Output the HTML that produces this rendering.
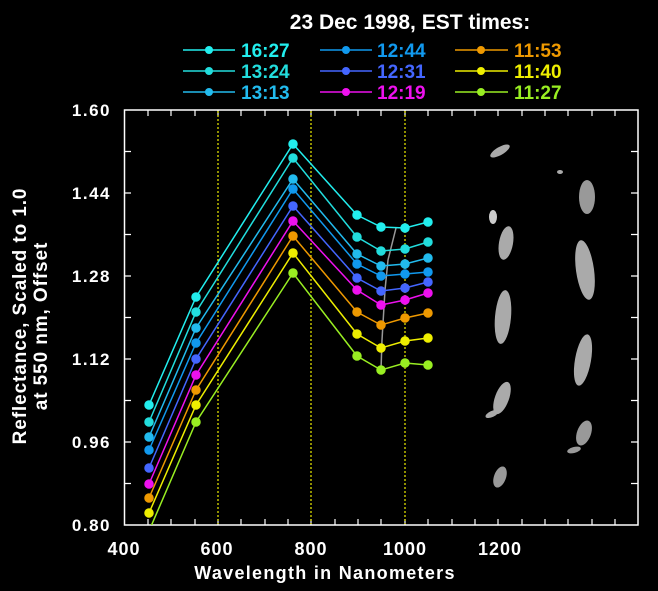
<!DOCTYPE html>
<html><head><meta charset="utf-8"><style>
html,body{margin:0;padding:0;background:#000;}
svg{display:block;}
text{font-family:"Liberation Sans",sans-serif;}
</style></head><body>
<svg width="658" height="591" viewBox="0 0 658 591" xmlns="http://www.w3.org/2000/svg">
<rect width="658" height="591" fill="#000"/>
<text x="410" y="29" fill="#fff" font-size="21" font-weight="bold" text-anchor="middle">23 Dec 1998, EST times:</text>
<g font-size="19" font-weight="bold">
<g stroke-width="1.5">
<line x1="183" y1="50" x2="235" y2="50" stroke="#22eeee"/><circle cx="209" cy="50" r="4" fill="#22eeee"/>
<line x1="183" y1="71" x2="235" y2="71" stroke="#22dddd"/><circle cx="209" cy="71" r="4" fill="#22dddd"/>
<line x1="183" y1="92" x2="235" y2="92" stroke="#22bbee"/><circle cx="209" cy="92" r="4" fill="#22bbee"/>
<line x1="320" y1="50" x2="372" y2="50" stroke="#1199ee"/><circle cx="346" cy="50" r="4" fill="#1199ee"/>
<line x1="320" y1="71" x2="372" y2="71" stroke="#4466ff"/><circle cx="346" cy="71" r="4" fill="#4466ff"/>
<line x1="320" y1="92" x2="372" y2="92" stroke="#ee11ee"/><circle cx="346" cy="92" r="4" fill="#ee11ee"/>
<line x1="455" y1="50" x2="508" y2="50" stroke="#ee9900"/><circle cx="481" cy="50" r="4" fill="#ee9900"/>
<line x1="455" y1="71" x2="508" y2="71" stroke="#eeee00"/><circle cx="481" cy="71" r="4" fill="#eeee00"/>
<line x1="455" y1="92" x2="508" y2="92" stroke="#99ee22"/><circle cx="481" cy="92" r="4" fill="#99ee22"/>
</g>
<text x="241" y="57" fill="#22eeee">16:27</text>
<text x="241" y="78" fill="#22dddd">13:24</text>
<text x="241" y="99" fill="#22bbee">13:13</text>
<text x="377" y="57" fill="#1199ee">12:44</text>
<text x="377" y="78" fill="#4466ff">12:31</text>
<text x="377" y="99" fill="#ee11ee">12:19</text>
<text x="514" y="57" fill="#ee9900">11:53</text>
<text x="514" y="78" fill="#eeee00">11:40</text>
<text x="514" y="99" fill="#99ee22">11:27</text>
</g>
<rect x="124.5" y="110" width="513.5" height="415" fill="none" stroke="#fff" stroke-width="1.5"/>
<g stroke="#fff" stroke-width="1.2">
<path d="M148 110v6M171 110v6M195 110v6M218 110v6M241 110v6M265 110v6M288 110v6M311 110v6M335 110v6M358 110v6M381 110v6M405 110v6M428 110v6M452 110v6M475 110v6M498 110v6M522 110v6M545 110v6M568 110v6M592 110v6M615 110v6"/>
<path d="M148 525v-6M171 525v-6M195 525v-6M218 525v-6M241 525v-6M265 525v-6M288 525v-6M311 525v-6M335 525v-6M358 525v-6M381 525v-6M405 525v-6M428 525v-6M452 525v-6M475 525v-6M498 525v-6M522 525v-6M545 525v-6M568 525v-6M592 525v-6M615 525v-6"/>
<path d="M124 151.5h7M124 193h7M124 234.5h7M124 276h7M124 317.5h7M124 359h7M124 400.5h7M124 442h7M124 483.5h7"/>
<path d="M638 151.5h-7M638 193h-7M638 234.5h-7M638 276h-7M638 317.5h-7M638 359h-7M638 400.5h-7M638 442h-7M638 483.5h-7"/>
</g>
<g stroke="#eeee00" stroke-width="1.2" stroke-dasharray="2,2">
<line x1="218" y1="111" x2="218" y2="524"/><line x1="311" y1="111" x2="311" y2="524"/><line x1="405" y1="111" x2="405" y2="524"/>
</g>
<g fill="#fff" font-size="17" font-weight="bold" text-anchor="end" letter-spacing="1.5">
<text x="111" y="116">1.60</text><text x="111" y="199">1.44</text><text x="111" y="282">1.28</text>
<text x="111" y="365">1.12</text><text x="111" y="448">0.96</text><text x="111" y="531">0.80</text>
</g>
<g fill="#fff" font-size="18" font-weight="bold" text-anchor="middle" letter-spacing="1">
<text x="124" y="555">400</text><text x="217" y="555">600</text><text x="311" y="555">800</text><text x="405" y="555">1000</text><text x="500" y="555">1200</text>
<text x="325" y="579" font-size="18" letter-spacing="1.3">Wavelength in Nanometers</text>
</g>
<g fill="#fff" font-size="19" font-weight="bold" text-anchor="middle" letter-spacing="0.9">
<text transform="translate(26,316) rotate(-90)">Reflectance, Scaled to 1.0</text>
<text transform="translate(47,326) rotate(-90)">at 550 nm,  Offset</text>
</g>
<polyline points="396,228 388,260 385,290 382,340 381,370" fill="none" stroke="#999" stroke-width="1.5"/>
<defs><clipPath id="c"><rect x="125" y="110" width="513" height="415"/></clipPath></defs>
<g clip-path="url(#c)" stroke-width="1.5" fill="none">
<g stroke="#22eeee" fill="#22eeee"><polyline fill="none" points="149,405 196,297 293,144 357,215 381,227 405,228 428,222"/><circle cx="149" cy="405" r="4"/><circle cx="196" cy="297" r="4"/><circle cx="293" cy="144" r="4"/><circle cx="357" cy="215" r="4"/><circle cx="381" cy="227" r="4"/><circle cx="405" cy="228" r="4"/><circle cx="428" cy="222" r="4"/></g>
<g stroke="#22dddd" fill="#22dddd"><polyline fill="none" points="149,422 196,312 293,158 357,237 381,251 405,249 428,242"/><circle cx="149" cy="422" r="4"/><circle cx="196" cy="312" r="4"/><circle cx="293" cy="158" r="4"/><circle cx="357" cy="237" r="4"/><circle cx="381" cy="251" r="4"/><circle cx="405" cy="249" r="4"/><circle cx="428" cy="242" r="4"/></g>
<g stroke="#22bbee" fill="#22bbee"><polyline fill="none" points="149,437 196,328 293,179 357,254 381,266 405,264 428,258"/><circle cx="149" cy="437" r="4"/><circle cx="196" cy="328" r="4"/><circle cx="293" cy="179" r="4"/><circle cx="357" cy="254" r="4"/><circle cx="381" cy="266" r="4"/><circle cx="405" cy="264" r="4"/><circle cx="428" cy="258" r="4"/></g>
<g stroke="#1199ee" fill="#1199ee"><polyline fill="none" points="149,450 196,343 293,189 357,264 381,276 405,274 428,272"/><circle cx="149" cy="450" r="4"/><circle cx="196" cy="343" r="4"/><circle cx="293" cy="189" r="4"/><circle cx="357" cy="264" r="4"/><circle cx="381" cy="276" r="4"/><circle cx="405" cy="274" r="4"/><circle cx="428" cy="272" r="4"/></g>
<g stroke="#4466ff" fill="#4466ff"><polyline fill="none" points="149,468 196,359 293,206 357,278 381,291 405,288 428,282"/><circle cx="149" cy="468" r="4"/><circle cx="196" cy="359" r="4"/><circle cx="293" cy="206" r="4"/><circle cx="357" cy="278" r="4"/><circle cx="381" cy="291" r="4"/><circle cx="405" cy="288" r="4"/><circle cx="428" cy="282" r="4"/></g>
<g stroke="#ee11ee" fill="#ee11ee"><polyline fill="none" points="149,484 196,375 293,221 357,290 381,305 405,300 428,293"/><circle cx="149" cy="484" r="4"/><circle cx="196" cy="375" r="4"/><circle cx="293" cy="221" r="4"/><circle cx="357" cy="290" r="4"/><circle cx="381" cy="305" r="4"/><circle cx="405" cy="300" r="4"/><circle cx="428" cy="293" r="4"/></g>
<g stroke="#ee9900" fill="#ee9900"><polyline fill="none" points="149,498 196,390 293,236 357,312 381,325 405,318 428,313"/><circle cx="149" cy="498" r="4"/><circle cx="196" cy="390" r="4"/><circle cx="293" cy="236" r="4"/><circle cx="357" cy="312" r="4"/><circle cx="381" cy="325" r="4"/><circle cx="405" cy="318" r="4"/><circle cx="428" cy="313" r="4"/></g>
<g stroke="#eeee00" fill="#eeee00"><polyline fill="none" points="149,513 196,405 293,253 357,334 381,348 405,341 428,338"/><circle cx="149" cy="513" r="4"/><circle cx="196" cy="405" r="4"/><circle cx="293" cy="253" r="4"/><circle cx="357" cy="334" r="4"/><circle cx="381" cy="348" r="4"/><circle cx="405" cy="341" r="4"/><circle cx="428" cy="338" r="4"/></g>
<g stroke="#99ee22" fill="#99ee22"><polyline fill="none" points="149,531 196,422 293,273 357,356 381,370 405,363 428,365"/><circle cx="196" cy="422" r="4"/><circle cx="293" cy="273" r="4"/><circle cx="357" cy="356" r="4"/><circle cx="381" cy="370" r="4"/><circle cx="405" cy="363" r="4"/><circle cx="428" cy="365" r="4"/></g>
</g>
<g fill="#aaa">
<ellipse cx="500" cy="151" rx="11" ry="4" transform="rotate(-30 500 151)"/>
<ellipse cx="493" cy="217" rx="4" ry="7" fill="#ccc"/>
<ellipse cx="506" cy="243" rx="7" ry="17" transform="rotate(10 506 243)"/>
<ellipse cx="503" cy="317" rx="8" ry="27" transform="rotate(5 503 317)"/>
<ellipse cx="502" cy="398" rx="7" ry="17" transform="rotate(20 502 398)"/>
<ellipse cx="492" cy="414" rx="7" ry="3" transform="rotate(-25 492 414)"/>
<ellipse cx="500" cy="477" rx="6" ry="11" transform="rotate(20 500 477)" fill="#999"/>
<ellipse cx="560" cy="172" rx="3" ry="2"/>
<ellipse cx="587" cy="197" rx="8" ry="17" fill="#999"/>
<ellipse cx="585" cy="270" rx="9" ry="30" transform="rotate(-8 585 270)"/>
<ellipse cx="583" cy="360" rx="8" ry="26" transform="rotate(10 583 360)"/>
<ellipse cx="584" cy="433" rx="7" ry="13" transform="rotate(20 584 433)" fill="#999"/>
<ellipse cx="574" cy="450" rx="7" ry="3" transform="rotate(-15 574 450)" fill="#999"/>
</g>
</svg>
</body></html>
